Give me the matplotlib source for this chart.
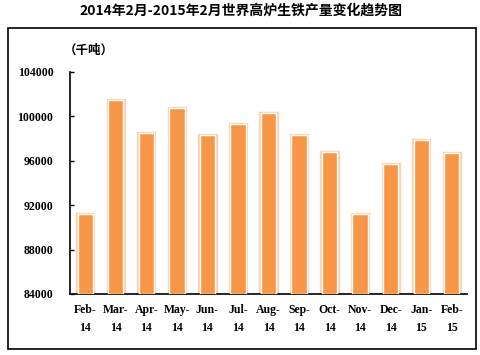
import matplotlib
matplotlib.use("Agg")
import matplotlib.pyplot as plt
from matplotlib.patches import Rectangle

months = ["Feb-\n14", "Mar-\n14", "Apr-\n14", "May-\n14", "Jun-\n14", "Jul-\n14",
          "Aug-\n14", "Sep-\n14", "Oct-\n14", "Nov-\n14", "Dec-\n14", "Jan-\n15", "Feb-\n15"]
output = [91180, 101480, 98500, 100760, 98320, 99310,
          100330, 98350, 96820, 91230, 95690, 97850, 96680]
yticks = [84000, 88000, 92000, 96000, 100000, 104000]
title = "2014年2月-2015年2月世界高炉生铁产量变化趋势图"
unit = "（千吨）"

fam = ["Liberation Serif", "Noto Sans CJK SC"]
cjk = ["Noto Sans CJK SC", "DejaVu Sans"]

fig = plt.figure(figsize=(4.81, 3.55), dpi=100)
fig.patch.set_facecolor("white")

# outer frame
fig.patches.append(Rectangle((8 / 481, 1 - 349 / 355), 468 / 481, 321 / 355,
                             transform=fig.transFigure, fill=False,
                             edgecolor="black", linewidth=1.2))

fig.text(0.5, 1 - 11 / 355, title, ha="center", va="center",
         fontsize=10, fontweight="bold", family=cjk)
fig.text(64 / 481, 1 - 50 / 355, unit, ha="left", va="center",
         fontsize=9, fontweight="bold", family=cjk)

ax = fig.add_axes([70 / 481, 1 - 294 / 355, 397 / 481, 222 / 355])
x = list(range(len(months)))
base = yticks[0]
heights = [v - base for v in output]
ax.bar(x, heights, bottom=base, width=0.53, color="#FCD3AE",
       edgecolor="#FCD3AE", linewidth=2.4, zorder=2)
ax.bar(x, heights, bottom=base, width=0.50, color="#F79646",
       edgecolor="white", linewidth=1.0, zorder=3)

ax.set_xlim(-0.5, len(months) - 0.5)
ax.set_ylim(yticks[0], yticks[-1])
ax.set_yticks(yticks)
ax.set_yticklabels([str(t) for t in yticks], fontsize=8.5, fontweight="bold", family=fam)
ax.set_xticks(x)
ax.set_xticklabels(months, fontsize=8.5, fontweight="bold", family=fam, linespacing=1.7)
ax.tick_params(axis="y", direction="in", length=3, width=1, pad=12)
ax.tick_params(axis="x", length=0, pad=7)
for s in ["top", "right"]:
    ax.spines[s].set_visible(False)
ax.spines["left"].set_linewidth(1.2)
ax.spines["bottom"].set_linewidth(1.2)

fig.savefig("out.png", dpi=100)
